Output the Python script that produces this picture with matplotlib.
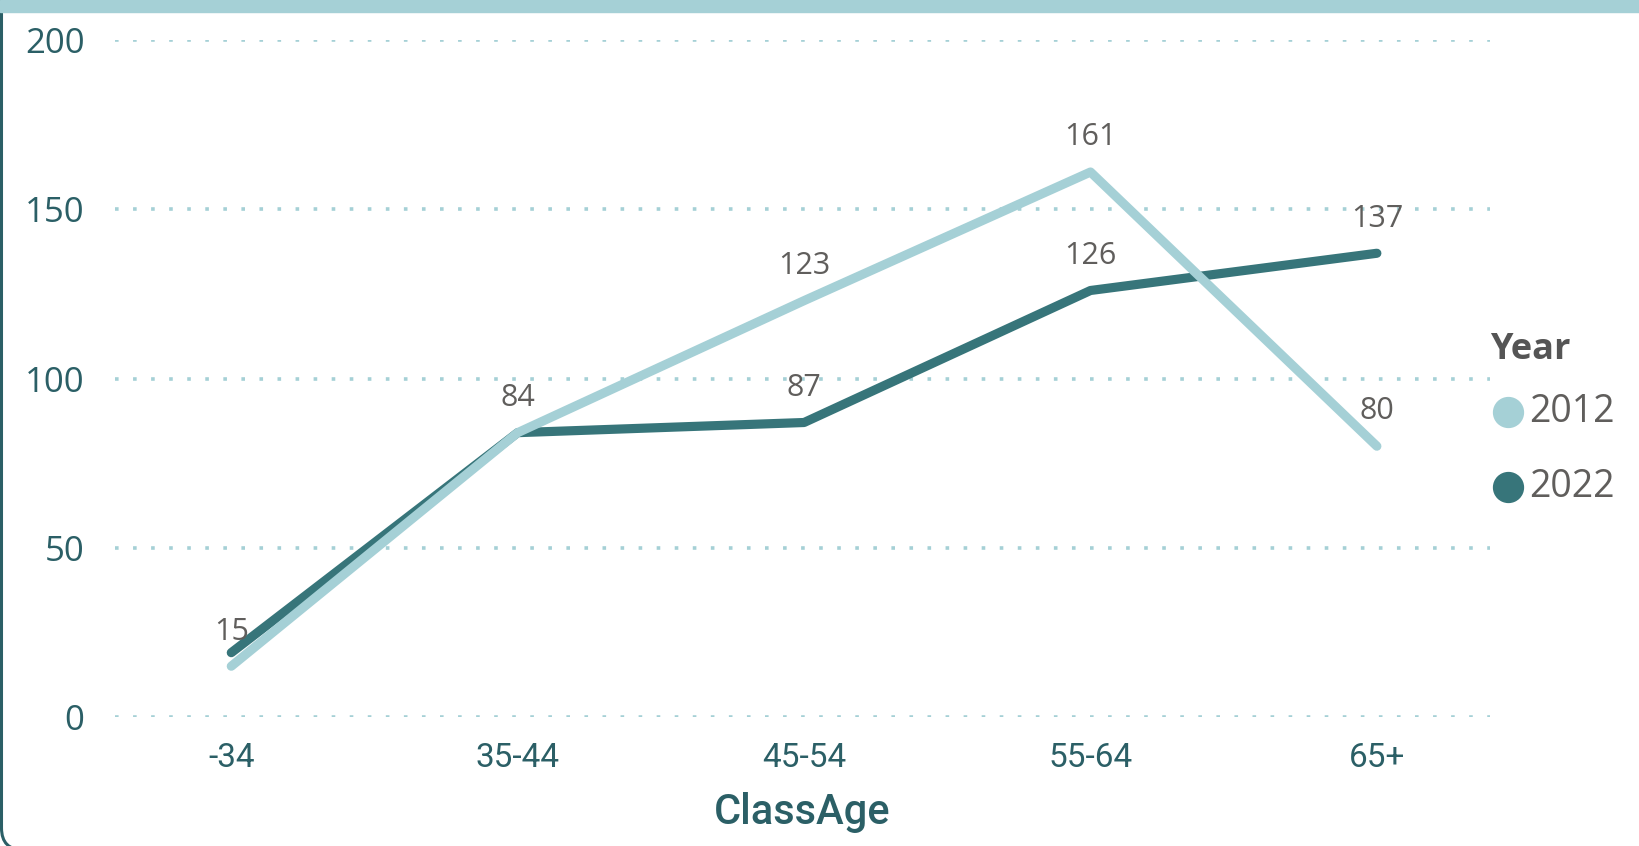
import matplotlib
matplotlib.use("Agg")
import matplotlib.pyplot as plt
from matplotlib.lines import Line2D
from matplotlib.patches import FancyBboxPatch, Rectangle

# values per age class
classes = ["-34", "35-44", "45-54", "55-64", "65+"]
years = ["2012", "2022"]
values_2012 = [15, 84, 123, 161, 80]
values_2022 = [19, 84, 87, 126, 137]
# labels shown on the chart (None = hidden because it overlaps)
labels_2012 = [15, 84, 123, 161, 80]
labels_2022 = [None, None, 87, 126, 137]
yticks = [0, 50, 100, 150, 200]

light = "#A5D0D6"
dark = "#37757A"
axis_col = "#2B5F66"
label_col = "#605E5C"

W, H = 1639, 846
fig = plt.figure(figsize=(W / 100, H / 100), dpi=100)
ax = fig.add_axes([115 / W, (H - 717) / H, (1490 - 115) / W, (717 - 40) / H])

x = list(range(len(classes)))
series = [(values_2022, labels_2022, dark, 3), (values_2012, labels_2012, light, 4)]
for vals, labs, col, z in series:
    ax.plot(x, vals, color=col, lw=6.6, solid_capstyle="round",
            solid_joinstyle="round", zorder=z, clip_on=False)
    for xi, v, lab in zip(x, vals, labs):
        if lab is None:
            continue
        ax.annotate(str(lab), (xi, v), xytext=(0, 25), textcoords="offset points",
                    ha="center", va="center", fontsize=22, color=label_col,
                    family="Open Sans", zorder=6)

ax.set_xlim(-0.406, 4.395)
ax.set_ylim(0, 200)
ax.set_yticks(yticks)
ax.set_xticks(x)
ax.set_xticklabels(classes)
for s in ax.spines.values():
    s.set_visible(False)
ax.tick_params(length=0)
ax.tick_params(axis="y", pad=22, labelsize=25, labelcolor=axis_col)
ax.tick_params(axis="x", pad=18, labelsize=24, labelcolor=axis_col)
for t in ax.get_yticklabels():
    t.set_family("Open Sans")
for t in ax.get_xticklabels():
    t.set_family("Roboto")

# dotted gridlines
for yv in yticks:
    ax.axhline(yv, color=light, lw=2.6, linestyle=(0, (1, 4)),
               dash_capstyle="butt", zorder=1)

ax.set_xlabel("ClassAge", fontsize=30, color=axis_col, family="Roboto",
              fontweight="medium", labelpad=13)

# legend
fig.text(1490 / W, 1 - 350 / H, "Year", fontsize=26, fontweight="bold",
         color="#555555", family="Open Sans", ha="left", va="center")
for yr, col, yp in zip(years, [light, dark], [412, 487]):
    fig.add_artist(Line2D([1508 / W], [1 - yp / H], marker="o", markersize=21.5,
                          color=col, lw=0, transform=fig.transFigure))
    fig.text(1529 / W, 1 - yp / H, yr, fontsize=27, color=label_col,
             family="Open Sans", ha="left", va="center")

# card frame: dark rounded left edge and light top band
fig.add_artist(FancyBboxPatch((1.5, -4), 4000, 4000,
                              boxstyle="round,pad=0,rounding_size=22",
                              fill=False, ec=axis_col, lw=2.2, transform=None))
fig.add_artist(Rectangle((0, 1 - 12 / H), 1, 12 / H, color=light,
                         transform=fig.transFigure, zorder=10))

fig.savefig("out.png", dpi=100)
